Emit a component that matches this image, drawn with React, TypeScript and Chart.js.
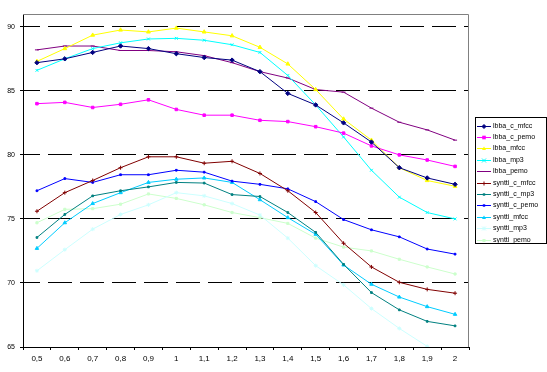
import React, { useEffect, useRef } from 'react';
import { Chart, registerables } from 'chart.js';

Chart.register(...registerables);

const categories = ['0,5', '0,6', '0,7', '0,8', '0,9', '1', '1,1', '1,2', '1,3', '1,4', '1,5', '1,6', '1,7', '1,8', '1,9', '2'];

const lbbaCMfcc = [87.2, 87.5, 88.0, 88.5, 88.3, 87.9, 87.6, 87.4, 86.5, 84.8, 83.9, 82.5, 81.0, 79.0, 78.2, 77.7];
const lbbaCPemo = [84.0, 84.1, 83.7, 83.95, 84.3, 83.55, 83.1, 83.1, 82.7, 82.6, 82.2, 81.7, 80.7, 80.0, 79.6, 79.1];
const lbbaMfcc = [87.3, 88.3, 89.35, 89.75, 89.6, 89.9, 89.6, 89.3, 88.4, 87.1, 85.1, 82.8, 81.15, 79.0, 78.0, 77.55];
const lbbaMp3 = [86.6, 87.5, 88.3, 88.75, 89.05, 89.1, 88.95, 88.6, 88.0, 86.2, 83.9, 81.4, 78.8, 76.7, 75.5, 75.0];
const lbbaPemo = [88.2, 88.5, 88.5, 88.15, 88.15, 88.05, 87.75, 87.2, 86.5, 86.0, 85.1, 84.9, 83.65, 82.55, 81.95, 81.15];
const synttiCMfcc = [75.6, 77.05, 78.0, 79.0, 79.85, 79.85, 79.35, 79.5, 78.55, 77.2, 75.5, 73.1, 71.25, 70.05, 69.5, 69.2];
const synttiCMp3 = [73.55, 75.35, 76.8, 77.2, 77.5, 77.85, 77.8, 76.9, 76.75, 75.5, 73.95, 71.45, 69.25, 67.9, 67.0, 66.65];
const synttiCPemo = [77.2, 78.15, 77.85, 78.45, 78.45, 78.8, 78.65, 77.95, 77.7, 77.35, 76.35, 74.95, 74.15, 73.6, 72.65, 72.25];
const synttiMfcc = [72.7, 74.7, 76.2, 77.05, 77.85, 78.1, 78.2, 77.85, 76.5, 75.1, 73.8, 71.4, 69.9, 68.9, 68.15, 67.55];
const synttiMp3 = [70.95, 72.6, 74.2, 75.35, 76.1, 77.05, 76.8, 76.2, 75.3, 73.5, 71.35, 69.85, 68.0, 66.45, 65.05, 63.9];
const synttiPemo = [74.7, 75.75, 75.8, 76.15, 76.95, 76.6, 76.1, 75.5, 75.1, 74.65, 73.5, 72.8, 72.5, 71.85, 71.25, 70.7];

const seriesNames = [
  'lbba_c_mfcc', 'lbba_c_pemo', 'lbba_mfcc', 'lbba_mp3', 'lbba_pemo',
  'syntti_c_mfcc', 'syntti_c_mp3', 'syntti_c_pemo', 'syntti_mfcc', 'syntti_mp3', 'syntti_pemo',
];
const seriesValues = [
  lbbaCMfcc, lbbaCPemo, lbbaMfcc, lbbaMp3, lbbaPemo,
  synttiCMfcc, synttiCMp3, synttiCPemo, synttiMfcc, synttiMp3, synttiPemo,
];

const yTicks = [65, 70, 75, 80, 85, 90];

// styles
const seriesColors = ['#000080', '#ff00ff', '#ffff00', '#00ffff', '#800080', '#800000', '#008080', '#0000ff', '#00ccff', '#ccffff', '#ccffcc'];
const seriesMarkers = ['rectRot', 'rect', 'triangle', 'crossRot', 'line', 'cross', 'rect', 'rect', 'triangle', 'star', 'rect'];
const seriesRadius = [2.2, 1.8, 2.2, 2, 2, 2, 1.2, 1.2, 2, 2, 1.5];

function drawMarker(ctx: CanvasRenderingContext2D, style: string, x: number, y: number, r: number, color: string) {
  ctx.save();
  ctx.strokeStyle = color;
  ctx.fillStyle = color;
  ctx.lineWidth = 1;
  ctx.beginPath();
  switch (style) {
    case 'rect':
      ctx.fillRect(x - r, y - r, 2 * r, 2 * r);
      break;
    case 'rectRot':
      ctx.moveTo(x, y - r); ctx.lineTo(x + r, y); ctx.lineTo(x, y + r); ctx.lineTo(x - r, y); ctx.closePath(); ctx.fill(); ctx.stroke();
      break;
    case 'triangle':
      ctx.moveTo(x, y - r); ctx.lineTo(x + r, y + r * 0.8); ctx.lineTo(x - r, y + r * 0.8); ctx.closePath(); ctx.fill();
      break;
    case 'crossRot':
      ctx.moveTo(x - r, y - r); ctx.lineTo(x + r, y + r); ctx.moveTo(x + r, y - r); ctx.lineTo(x - r, y + r); ctx.stroke();
      break;
    case 'cross':
      ctx.moveTo(x - r, y); ctx.lineTo(x + r, y); ctx.moveTo(x, y - r); ctx.lineTo(x, y + r); ctx.stroke();
      break;
    case 'line':
      ctx.moveTo(x - r, y); ctx.lineTo(x + r, y); ctx.stroke();
      break;
    case 'star':
      ctx.moveTo(x - r, y - r); ctx.lineTo(x + r, y + r); ctx.moveTo(x + r, y - r); ctx.lineTo(x - r, y + r);
      ctx.moveTo(x, y - r); ctx.lineTo(x, y + r); ctx.stroke();
      break;
    default:
      ctx.arc(x, y, r, 0, Math.PI * 2); ctx.fill();
  }
  ctx.restore();
}

const framePlugin = {
  id: 'frame',
  beforeDatasetsDraw(chart: any) {
    const { ctx, chartArea } = chart;
    ctx.save();
    ctx.strokeStyle = '#808080';
    ctx.lineWidth = 1;
    ctx.beginPath();
    const t = Math.round(chartArea.top) + 0.5;
    const r = Math.round(chartArea.right) - 0.5;
    ctx.moveTo(Math.round(chartArea.left), t);
    ctx.lineTo(r, t);
    ctx.lineTo(r, Math.round(chartArea.bottom));
    ctx.stroke();
    ctx.restore();
  },
};

const legendPlugin = {
  id: 'boxLegend',
  afterDraw(chart: any) {
    const { ctx } = chart;
    const left = 475.5;
    const top = 117.5;
    const w = 71;
    const rowH = 11.4;
    const h = 126;
    ctx.save();
    ctx.fillStyle = '#ffffff';
    ctx.fillRect(left, top, w, h);
    ctx.strokeStyle = '#000000';
    ctx.lineWidth = 1;
    ctx.strokeRect(left, top, w, h);
    ctx.font = '7px "Liberation Sans", Arial, sans-serif';
    ctx.textBaseline = 'middle';
    ctx.textAlign = 'left';
    chart.data.datasets.forEach((ds: any, i: number) => {
      const y = Math.round(top + 8 + i * rowH) + 0.5;
      ctx.strokeStyle = seriesColors[i];
      ctx.lineWidth = 1;
      ctx.beginPath();
      ctx.moveTo(477, y);
      ctx.lineTo(491, y);
      ctx.stroke();
      drawMarker(ctx, seriesMarkers[i], 484, y, Math.min(seriesRadius[i], 2), seriesColors[i]);
      ctx.fillStyle = '#000000';
      ctx.fillText(ds.label, 493, y);
    });
    ctx.restore();
  },
};

export default function App() {
  const canvasRef = useRef<HTMLCanvasElement | null>(null);

  useEffect(() => {
    document.body.style.margin = '0';
    const canvas = canvasRef.current;
    if (!canvas) return;
    const chart = new Chart(canvas, {
      type: 'line',
      data: {
        labels: categories,
        datasets: seriesNames.map((name, i) => ({
          label: name,
          data: seriesValues[i],
          borderColor: seriesColors[i],
          backgroundColor: seriesColors[i],
          borderWidth: 1,
          pointStyle: seriesMarkers[i] as any,
          pointRadius: seriesRadius[i],
          pointBorderWidth: 1,
          pointBorderColor: seriesColors[i],
          pointBackgroundColor: seriesColors[i],
          tension: 0,
          fill: false,
        })),
      },
      options: {
        animation: false,
        responsive: false,
        devicePixelRatio: 1,
        layout: { padding: { top: 14, right: 78, left: 0, bottom: 0 } },
        plugins: {
          legend: { display: false },
          tooltip: { enabled: false },
        },
        font: { family: '"Liberation Sans", Arial, sans-serif' } as any,
        scales: {
          x: {
            type: 'category',
            offset: true,
            grid: {
              display: true,
              drawOnChartArea: false,
              drawTicks: true,
              tickLength: 3,
              offset: true,
              color: '#000000',
              tickColor: '#000000',
            },
            border: { display: true, color: '#000000', width: 1 },
            ticks: {
              color: '#000000',
              font: { size: 8, family: '"Liberation Sans", Arial, sans-serif' },
              padding: 4,
              maxRotation: 0,
              autoSkip: false,
            },
            afterFit: (s: any) => { s.height = 25; },
          },
          y: {
            min: yTicks[0],
            max: 91,
            ticks: {
              stepSize: 5,
              color: '#000000',
              font: { size: 7, family: '"Liberation Sans", Arial, sans-serif' },
              padding: 5,
            },
            afterBuildTicks: (s: any) => {
              s.ticks = yTicks.map((v) => ({ value: v }));
            },
            grid: {
              color: (c: any) => (c.tick && c.tick.value === yTicks[0] ? 'rgba(0,0,0,0)' : '#000000'),
              tickColor: '#000000',
              tickLength: 3,
              lineWidth: 1,
            },
            border: { display: true, color: '#000000', width: 1, dash: [24, 8], dashOffset: 8 },
            afterFit: (s: any) => { s.width = 23; },
          },
        },
      },
      plugins: [framePlugin, legendPlugin],
    });
    return () => chart.destroy();
  }, []);

  return (
    <div style={{ width: 547, height: 372, background: '#ffffff' }}>
      <canvas ref={canvasRef} width={547} height={372} style={{ display: 'block' }} />
    </div>
  );
}
